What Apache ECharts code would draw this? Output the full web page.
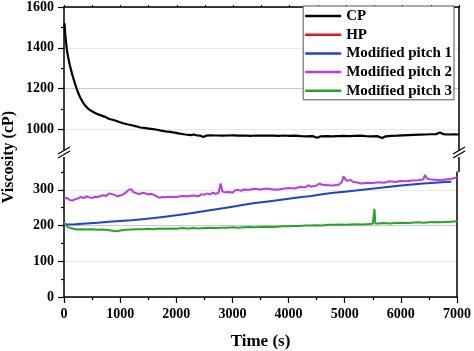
<!DOCTYPE html>
<html>
<head>
<meta charset="utf-8">
<script src="https://cdn.jsdelivr.net/npm/echarts@6/dist/echarts.min.js"></script>
<style>
  html, body { margin: 0; padding: 0; background: #fff; }
  #chart { width: 474px; height: 351px; }
</style>
</head>
<body>
<div id="chart"></div>
<script>
// [time (s), viscosity (cP)]
const cpData = [
  [0, 1505], [10, 1520], [20, 1470], [35, 1430], [50, 1392], [75, 1352], [100, 1320],
  [130, 1286], [160, 1256], [195, 1225], [230, 1196], [260, 1174], [290, 1156],
  [330, 1136], [370, 1119], [420, 1104], [470, 1094], [520, 1086], [570, 1079],
  [620, 1073], [680, 1067], [740, 1061], [800, 1052], [860, 1048], [920, 1043],
  [980, 1037], [1050, 1031], [1120, 1026], [1200, 1021], [1280, 1016], [1350, 1010],
  [1420, 1008], [1500, 1005], [1580, 1002], [1650, 999], [1720, 995], [1800, 991],
  [1880, 989], [1960, 985], [2050, 980], [2150, 976], [2250, 973], [2300, 976],
  [2350, 972], [2420, 970], [2470, 964], [2520, 970], [2600, 972], [2700, 971],
  [2800, 970], [2900, 971], [3000, 972], [3100, 970], [3200, 971], [3300, 969],
  [3400, 971], [3500, 970], [3600, 971], [3700, 970], [3800, 969], [3900, 971],
  [4000, 969], [4100, 970], [4200, 968], [4300, 967], [4400, 968], [4490, 960],
  [4550, 967], [4650, 968], [4750, 967], [4850, 968], [4950, 969], [5050, 968],
  [5150, 969], [5250, 970], [5350, 968], [5450, 967], [5550, 968], [5640, 959],
  [5700, 967], [5800, 969], [5900, 970], [6000, 972], [6100, 973], [6200, 974],
  [6300, 975], [6400, 976], [6500, 977], [6600, 978], [6660, 986], [6720, 978],
  [6800, 976], [6900, 977], [7000, 976]
];
const hpData = [];
const mp1Data = [
  [0, 203], [200, 204], [400, 206], [600, 208], [800, 211], [1000, 213], [1200, 215],
  [1400, 218], [1600, 221], [1800, 225], [2000, 229], [2200, 233], [2400, 238],
  [2600, 243], [2800, 248], [3000, 253], [3200, 258], [3400, 263], [3600, 267],
  [3800, 271], [4000, 275], [4200, 279], [4400, 283], [4600, 288], [4800, 292],
  [5000, 295], [5200, 298], [5400, 302], [5600, 305], [5800, 309], [6000, 312],
  [6200, 315], [6400, 318], [6600, 320], [6800, 322], [6900, 323]
];
const mp2Data = [
  [0, 275], [50, 278], [100, 272], [150, 270], [200, 274], [250, 276], [300, 280],
  [350, 277], [400, 282], [450, 279], [500, 277], [550, 281], [600, 280], [650, 283],
  [700, 285], [750, 283], [800, 290], [830, 295], [860, 288], [900, 286], [950, 282],
  [1000, 284], [1050, 287], [1100, 292], [1150, 300], [1180, 297], [1200, 302],
  [1230, 294], [1260, 296], [1300, 290], [1350, 288], [1400, 292], [1450, 290],
  [1500, 287], [1550, 289], [1600, 286], [1650, 282], [1700, 278], [1750, 280],
  [1800, 279], [1900, 281], [2000, 280], [2100, 283], [2200, 282], [2300, 284],
  [2400, 282], [2450, 288], [2500, 286], [2550, 290], [2600, 287], [2650, 292],
  [2700, 289], [2750, 291], [2790, 318], [2820, 295], [2870, 293], [2950, 294],
  [3000, 292], [3050, 299], [3100, 300], [3150, 297], [3200, 301], [3300, 300],
  [3400, 303], [3500, 301], [3600, 304], [3700, 302], [3800, 300], [3900, 303],
  [4000, 305], [4100, 304], [4200, 308], [4300, 307], [4350, 313], [4400, 309],
  [4500, 312], [4550, 318], [4600, 314], [4700, 313], [4800, 312], [4900, 315],
  [4950, 322], [4980, 338], [5010, 330], [5050, 325], [5100, 328], [5150, 322],
  [5200, 321], [5300, 318], [5400, 320], [5500, 319], [5600, 321], [5700, 320],
  [5800, 324], [5900, 322], [6000, 325], [6100, 324], [6200, 326], [6300, 327],
  [6400, 329], [6430, 342], [6460, 333], [6500, 330], [6600, 328], [6700, 327],
  [6800, 329], [6900, 331], [7000, 335]
];
const mp3Data = [
  [0, 210], [15, 214], [40, 200], [80, 195], [150, 192], [226, 189], [300, 190],
  [400, 189], [500, 190], [600, 188], [700, 189], [800, 187], [900, 185], [950, 184],
  [1000, 186], [1100, 188], [1200, 189], [1300, 190], [1400, 190], [1500, 191],
  [1600, 190], [1700, 192], [1800, 191], [1900, 192], [2000, 191], [2100, 193],
  [2200, 192], [2300, 193], [2400, 192], [2500, 193], [2600, 194], [2700, 193],
  [2800, 194], [2900, 194], [3000, 195], [3100, 194], [3200, 195], [3300, 196],
  [3400, 195], [3500, 196], [3600, 197], [3700, 196], [3800, 197], [3900, 198],
  [4000, 198], [4100, 199], [4200, 199], [4300, 200], [4400, 200], [4500, 201],
  [4600, 200], [4700, 202], [4800, 202], [4900, 203], [5000, 202], [5100, 203],
  [5200, 204], [5300, 203], [5400, 204], [5500, 205], [5520, 204], [5530, 247],
  [5545, 206], [5600, 206], [5700, 207], [5800, 206], [5900, 207], [6000, 208],
  [6100, 207], [6200, 208], [6300, 209], [6400, 208], [6500, 209], [6600, 210],
  [6700, 209], [6800, 210], [6900, 211], [7000, 212]
];

const seriesNames = ['CP', 'HP', 'Modified pitch 1', 'Modified pitch 2', 'Modified pitch 3'];
const seriesColors = ['#000000', '#e8141b', '#1f3fe0', '#b43cf0', '#25a525'];
const upperMajorTicks = [1000, 1200, 1400, 1600];
const upperMinorTicks = [1100, 1300, 1500];
const lowerMajorTicks = [0, 100, 200, 300];
const lowerMinorTicks = [50, 150, 250, 350];

const FONT = '"Liberation Serif", "Times New Roman", serif';
const lineBlack = { color: '#000', width: 1.5 };
const labelStyle = { fontFamily: FONT, fontWeight: 'bold', fontSize: 14, color: '#000' };
const darkGrid = '#c9c9c9';
const lightGrid = '#e9e9e9';
const plain = function (v) { return String(v); };

function sideAxis(grid, min, max) {
  return {
    type: 'value', gridIndex: grid, min: min, max: max, position: 'right',
    axisLine: { show: true, onZero: false, lineStyle: lineBlack },
    axisTick: { show: false }, axisLabel: { show: false }, splitLine: { show: false }
  };
}

function minorAxis(grid, min, max, interval, ticks) {
  return {
    type: 'value', gridIndex: grid, min: min, max: max, interval: interval, position: 'left',
    axisLine: { show: false, onZero: false },
    axisTick: { show: true, length: 3, customValues: ticks, lineStyle: { color: '#000', width: 1.2 } },
    axisLabel: { show: false }, splitLine: { show: false }
  };
}

const chart = echarts.init(document.getElementById('chart'));

const datasets = [cpData, hpData, mp1Data, mp2Data, mp3Data];
const series = seriesNames.map(function (name, i) {
  const upper = i === 0;
  return {
    name: name,
    type: 'line',
    xAxisIndex: upper ? 0 : 1,
    yAxisIndex: upper ? 0 : 3,
    data: datasets[i],
    symbol: 'none',
    showSymbol: false,
    color: seriesColors[i],
    lineStyle: { width: upper ? 2.2 : 2 },
    animation: false
  };
});

chart.setOption({
  animation: false,
  grid: [
    { left: 64, right: 15, top: 5, height: 145 },
    { left: 64, right: 15, top: 172, height: 126 }
  ],
  legend: {
    orient: 'vertical',
    right: 20, top: 6,
    align: 'left',
    icon: 'rect',
    itemWidth: 36, itemHeight: 2.5, itemGap: 2.7,
    padding: [2, 2, 1, 2],
    borderColor: '#555', borderWidth: 1,
    backgroundColor: '#fff',
    textStyle: Object.assign({}, labelStyle, { fontSize: 15, lineHeight: 16 }),
    data: seriesNames
  },
  xAxis: [
    {
      type: 'value', gridIndex: 0, min: 0, max: 7000, interval: 500, position: 'top',
      axisLine: { show: true, onZero: false, lineStyle: lineBlack },
      axisTick: { show: true, length: 2, lineStyle: { color: '#000' } },
      axisLabel: { show: false }, splitLine: { show: false }
    },
    {
      type: 'value', gridIndex: 1, min: 0, max: 7000, interval: 1000,
      axisLine: { show: true, onZero: false, lineStyle: lineBlack },
      axisTick: { show: true, length: 6, lineStyle: { color: '#000', width: 1.2 } },
      minorTick: { show: true, splitNumber: 2, length: 3, lineStyle: { color: '#000', width: 1.2 } },
      axisLabel: Object.assign({ margin: 10, formatter: plain }, labelStyle),
      splitLine: { show: false },
      name: 'Time (s)', nameLocation: 'middle', nameGap: 36,
      nameTextStyle: { fontFamily: FONT, fontWeight: 'bold', fontSize: 17, color: '#000' }
    }
  ],
  yAxis: [
    {
      type: 'value', gridIndex: 0, min: 900, max: 1600, interval: 100,
      axisLine: { show: true, onZero: false, lineStyle: lineBlack },
      axisTick: { show: true, length: 6, customValues: upperMajorTicks, lineStyle: { color: '#000', width: 1.2 } },
      axisLabel: Object.assign({ margin: 10, customValues: upperMajorTicks, formatter: plain }, labelStyle),
      splitLine: { show: true, lineStyle: { color: [lightGrid, darkGrid], width: 1 } }
    },
    minorAxis(0, 900, 1600, 100, upperMinorTicks),
    sideAxis(0, 900, 1600),
    {
      type: 'value', gridIndex: 1, min: 0, max: 350, interval: 50,
      axisLine: { show: true, onZero: false, lineStyle: lineBlack },
      axisTick: { show: true, length: 6, customValues: lowerMajorTicks, lineStyle: { color: '#000', width: 1.2 } },
      axisLabel: Object.assign({ margin: 10, customValues: lowerMajorTicks, formatter: plain }, labelStyle),
      splitLine: { show: true, lineStyle: { color: [darkGrid, lightGrid], width: 1 } }
    },
    minorAxis(1, 0, 350, 50, lowerMinorTicks),
    sideAxis(1, 0, 350)
  ],
  graphic: [
    { type: 'line', shape: { x1: 64, y1: 157, x2: 64, y2: 172 }, style: { stroke: '#000', lineWidth: 1.5 } },
    { type: 'line', shape: { x1: 459, y1: 157, x2: 459, y2: 172 }, style: { stroke: '#000', lineWidth: 1.5 } },
    { type: 'line', shape: { x1: 58, y1: 154, x2: 70, y2: 147 }, style: { stroke: '#000', lineWidth: 1.3 } },
    { type: 'line', shape: { x1: 58, y1: 158, x2: 70, y2: 151 }, style: { stroke: '#000', lineWidth: 1.3 } },
    { type: 'line', shape: { x1: 453, y1: 154, x2: 465, y2: 147 }, style: { stroke: '#000', lineWidth: 1.3 } },
    { type: 'line', shape: { x1: 453, y1: 158, x2: 465, y2: 151 }, style: { stroke: '#000', lineWidth: 1.3 } },
    {
      type: 'text', x: 9, y: 157, rotation: Math.PI / 2,
      style: {
        text: 'Viscosity (cP)', fill: '#000',
        font: 'bold 16px "Liberation Serif", serif',
        textAlign: 'center', textVerticalAlign: 'middle'
      }
    }
  ],
  series: series
});
</script>
</body>
</html>
